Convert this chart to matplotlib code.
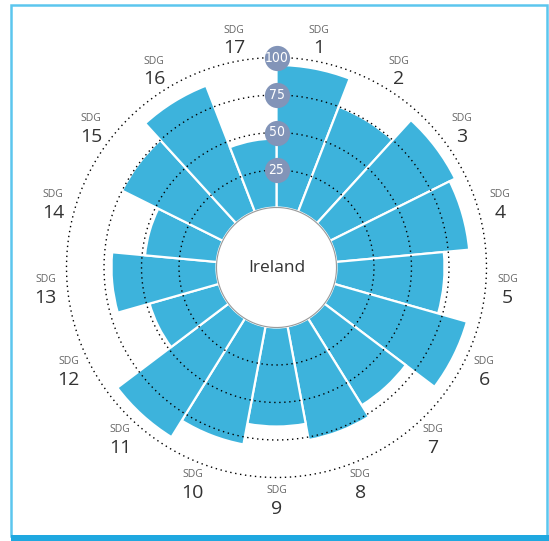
import numpy as np
import matplotlib
matplotlib.use("Agg")
import matplotlib.pyplot as plt
from matplotlib.patches import Rectangle

# SDG index scores for Ireland (0-100)
goals = [f"{i}" for i in range(1, 18)]
scores = [95, 75, 93, 89, 72, 92, 68, 77, 66, 80, 93, 48, 70, 48, 75, 90, 46]
ring_levels = [25, 50, 75, 100]
country = "Ireland"

BAR_COLOR = "#3db3dc"
BADGE_COLOR = "#8294b8"
FRAME_COLOR = "#5cc6ee"
FRAME_BOTTOM = "#1fa8e0"

W, H = 549, 541
fig = plt.figure(figsize=(W / 100, H / 100), dpi=100)

# polar axes centred on the circle, origin pushed out to leave a hole
cx, cy, R = 276.5, 267.5, 247.5
ax = fig.add_axes([(cx - R) / W, (H - cy - R) / H, 2 * R / W, 2 * R / H],
                  projection="polar")
ax.set_theta_zero_location("N")
ax.set_theta_direction(-1)
ax.set_rorigin(-40)
ax.set_ylim(0, 125)
ax.set_axis_off()

n = len(scores)
width = 2 * np.pi / n
theta = np.arange(n) * width

ax.bar(theta, scores, width=width, bottom=0, align="edge",
       color=BAR_COLOR, edgecolor="white", linewidth=1.6, zorder=2)

# dotted reference rings
full = np.linspace(0, 2 * np.pi, 720)
for lvl in ring_levels:
    ax.plot(full, np.full_like(full, lvl), color="black",
            linestyle=(0, (1, 2.6)), linewidth=1.0, zorder=3)

# inner hole outline
ax.plot(full, np.zeros_like(full), color="#9a9a9a", linewidth=0.8, zorder=3,
        clip_on=False)

# ring value badges
ax.scatter(np.zeros(len(ring_levels)), ring_levels, s=330, color=BADGE_COLOR,
           zorder=4, clip_on=False, linewidths=0)
for lvl in ring_levels:
    ax.text(0, lvl, str(lvl), ha="center", va="center", color="white",
            fontsize=10, family="DejaVu Sans", fontstretch="condensed",
            zorder=5)

# goal labels around the outside
label_r = 114.7
for t, g in zip(theta + width / 2, goals):
    ax.annotate("SDG", xy=(t, label_r), xytext=(0, 6.5),
                textcoords="offset points", ha="center", va="center",
                fontsize=7.5, color="#666666", family="Open Sans",
                annotation_clip=False)
    ax.annotate(g, xy=(t, label_r), xytext=(0, -6.5),
                textcoords="offset points", ha="center", va="center",
                fontsize=14, color="#333333", family="Open Sans",
                annotation_clip=False)

ax.text(0, -40, country, ha="center", va="center", fontsize=12.5,
        color="#333333", family="Open Sans", zorder=5)

# frame around the figure
fig.add_artist(Rectangle((11 / W, 5 / H), 536 / W, 531 / H,
                         transform=fig.transFigure, fill=False,
                         edgecolor=FRAME_COLOR, linewidth=1.8))
fig.add_artist(Rectangle((11 / W, 0), 538 / W, 6 / H,
                         transform=fig.transFigure, facecolor=FRAME_BOTTOM,
                         edgecolor="none"))

fig.savefig("out.png", dpi=100)
